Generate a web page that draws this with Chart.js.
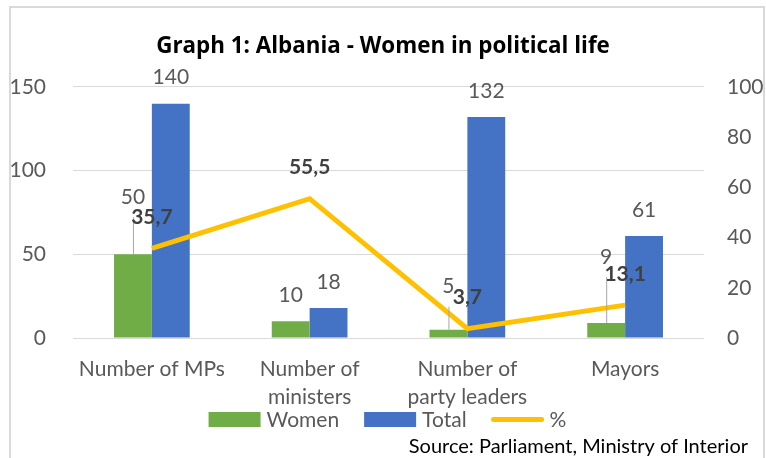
<!DOCTYPE html>
<html>
<head>
<meta charset="utf-8">
<script src="https://cdn.jsdelivr.net/npm/chart.js@4.4.1/dist/chart.umd.min.js"></script>
<style>
  html, body { margin: 0; padding: 0; background: #fff; }
</style>
</head>
<body>
<canvas id="chart" width="766" height="458"></canvas>
<script>
// data
const categories = ['Number of MPs', ['Number of', 'ministers'], ['Number of', 'party leaders'], 'Mayors'];
const women = [50, 10, 5, 9];
const total = [140, 18, 132, 61];
const percent = [35.7, 55.5, 3.7, 13.1];
const leftTicks = [0, 50, 100, 150];
const rightTicks = [0, 20, 40, 60, 80, 100];
const sourceNote = 'Source: Parliament, Ministry of Interior';

const GREEN = '#70AD47';
const BLUE = '#4472C4';
const GOLD = '#FFC000';
const TXT = '#595959';
const FONT = 'Lato, "Liberation Sans", sans-serif';

Chart.defaults.font.family = FONT;
Chart.defaults.color = TXT;

const fmt = v => Number.isInteger(v) ? String(v) : v.toFixed(1).replace('.', ',');

// white background + light frame like the excel chart area
const frame = {
  id: 'frame',
  beforeDraw(chart) {
    const { ctx, width, height } = chart;
    ctx.save();
    ctx.fillStyle = '#fff';
    ctx.fillRect(0, 0, width, height);
    ctx.strokeStyle = '#d9d9d9';
    ctx.lineWidth = 2;
    ctx.beginPath();
    ctx.moveTo(10, height + 2);
    ctx.lineTo(10, 7);
    ctx.lineTo(764, 7);
    ctx.lineTo(764, height + 2);
    ctx.stroke();
    ctx.restore();
  }
};

// value labels (some women labels sit higher with a leader line)
const valueLabels = {
  id: 'valueLabels',
  afterDatasetsDraw(chart, args, opts) {
    const { ctx } = chart;
    ctx.save();
    ctx.textAlign = 'center';
    ctx.textBaseline = 'middle';
    chart.data.datasets.forEach((ds, di) => {
      const meta = chart.getDatasetMeta(di);
      meta.data.forEach((el, i) => {
        const v = ds.data[i];
        if (ds.type === 'line') {
          ctx.font = 'bold 21px ' + FONT;
          ctx.fillStyle = '#404040';
          ctx.fillText(fmt(v), el.x, el.y - opts.lineGap);
          return;
        }
        ctx.font = '21px ' + FONT;
        ctx.fillStyle = TXT;
        const lift = (opts.lifted[di] || [])[i];
        if (lift) {
          const ly = el.y - lift;
          ctx.strokeStyle = '#a6a6a6';
          ctx.lineWidth = 1;
          ctx.beginPath();
          ctx.moveTo(el.x + 0.5, el.y);
          ctx.lineTo(el.x + 0.5, ly + 20);
          ctx.stroke();
          ctx.fillText(fmt(v), el.x, ly);
        } else {
          ctx.fillText(fmt(v), el.x, el.y - opts.barGap);
        }
      });
    });
    ctx.restore();
  }
};

// excel-like legend row + source note under the axis labels
const bottomLegend = {
  id: 'bottomLegend',
  afterDraw(chart, args, opts) {
    const { ctx, chartArea, width, height } = chart;
    ctx.save();
    ctx.font = '21px ' + FONT;
    ctx.textBaseline = 'middle';
    ctx.textAlign = 'left';
    const items = chart.data.datasets.map(ds => ({
      text: ds.label,
      color: ds.type === 'line' ? ds.borderColor : ds.backgroundColor,
      line: ds.type === 'line'
    }));
    const widths = items.map(it => opts.boxWidth + opts.textGap + ctx.measureText(it.text).width);
    const totalW = widths.reduce((a, b) => a + b, 0) + opts.itemGap * (items.length - 1);
    let x = (chartArea.left + chartArea.right) / 2 - totalW / 2 + opts.shift;
    const y = height - opts.fromBottom;
    items.forEach((it, i) => {
      if (it.line) {
        ctx.strokeStyle = it.color;
        ctx.lineWidth = 5;
        ctx.lineCap = 'round';
        ctx.beginPath();
        ctx.moveTo(x + 2, y);
        ctx.lineTo(x + opts.boxWidth - 2, y);
        ctx.stroke();
      } else {
        ctx.fillStyle = it.color;
        ctx.fillRect(x, y - opts.boxHeight / 2, opts.boxWidth, opts.boxHeight);
      }
      ctx.fillStyle = TXT;
      ctx.fillText(it.text, x + opts.boxWidth + opts.textGap, y + 1);
      x += widths[i] + opts.itemGap;
    });

    ctx.font = '20px ' + FONT;
    ctx.fillStyle = '#000';
    ctx.textAlign = 'right';
    ctx.fillText(sourceNote, width - 18, height - 11);
    ctx.restore();
  }
};

new Chart(document.getElementById('chart'), {
  type: 'bar',
  data: {
    labels: categories,
    datasets: [
      { label: 'Women', data: women, backgroundColor: GREEN, yAxisID: 'y', order: 1 },
      { label: 'Total', data: total, backgroundColor: BLUE, yAxisID: 'y', order: 1 },
      {
        type: 'line',
        label: '%',
        data: percent,
        borderColor: GOLD,
        backgroundColor: GOLD,
        borderWidth: 5,
        pointRadius: 0,
        tension: 0,
        yAxisID: 'y1',
        order: 0
      }
    ]
  },
  options: {
    responsive: false,
    animation: false,
    devicePixelRatio: 1,
    layout: { padding: { left: 0, right: 0, top: 0, bottom: 50 } },
    datasets: {
      bar: { categoryPercentage: 0.48, barPercentage: 1 }
    },
    scales: {
      x: {
        grid: { display: false, drawTicks: false, tickLength: 0 },
        border: { display: false },
        ticks: {
          padding: 18,
          font: { size: 21, lineHeight: 1.3 },
          color: TXT,
          maxRotation: 0,
          autoSkip: false
        },
        afterFit: s => { s.height = 70; }
      },
      y: {
        position: 'left',
        min: leftTicks[0],
        max: leftTicks[leftTicks.length - 1],
        ticks: {
          stepSize: leftTicks[1] - leftTicks[0],
          padding: 27,
          font: { size: 21 },
          color: TXT
        },
        grid: { color: '#d9d9d9', lineWidth: 1, drawTicks: false },
        border: { display: false },
        afterFit: s => { s.width = 73; }
      },
      y1: {
        position: 'right',
        min: rightTicks[0],
        max: rightTicks[rightTicks.length - 1],
        ticks: {
          stepSize: rightTicks[1] - rightTicks[0],
          padding: 23,
          font: { size: 21 },
          color: TXT
        },
        grid: { display: false, drawTicks: false },
        border: { display: false },
        afterFit: s => { s.width = 62; }
      }
    },
    plugins: {
      title: {
        display: true,
        text: 'Graph 1: Albania - Women in political life',
        color: '#000',
        font: { family: '"Open Sans", Lato, sans-serif', size: 22.4, weight: 'bold', lineHeight: 1.2 },
        padding: { top: 33.6, bottom: 26.5 }
      },
      legend: { display: false },
      tooltip: { enabled: false },
      valueLabels: {
        barGap: 26,
        lineGap: 31,
        lifted: { 0: [57, 0, 43, 66] }
      },
      bottomLegend: {
        boxWidth: 52,
        boxHeight: 15,
        textGap: 6,
        itemGap: 25,
        shift: -1,
        fromBottom: 38.5
      }
    }
  },
  plugins: [frame, valueLabels, bottomLegend]
});
</script>
</body>
</html>
